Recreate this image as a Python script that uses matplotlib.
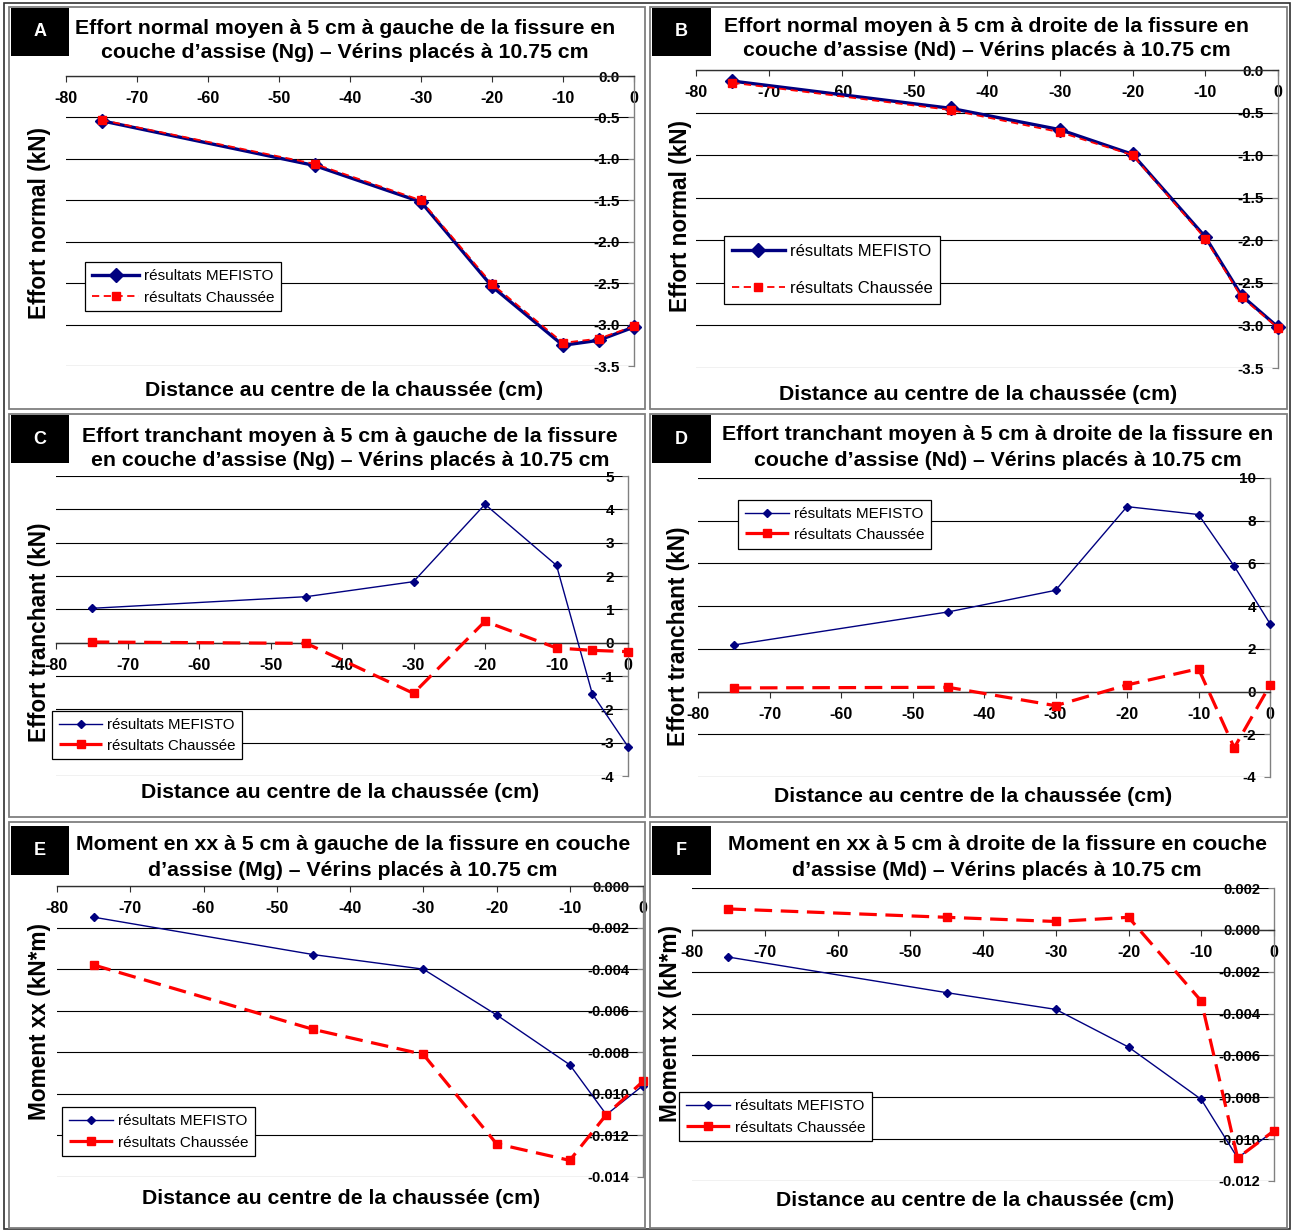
import matplotlib
matplotlib.use("Agg")
import matplotlib.pyplot as plt
from matplotlib.patches import Rectangle

plt.rcParams['font.family'] = ['Liberation Sans', 'DejaVu Sans']

# ---------------------------------------------------------------- data
distance_cm = [-75, -45, -30, -20, -10, -5, 0]
x_ticks = [-80, -70, -60, -50, -40, -30, -20, -10, 0]
x_tick_labels = ["-80", "-70", "-60", "-50", "-40", "-30", "-20", "-10", "0"]

# Effort normal (kN)
ng_mefisto = [-0.54, -1.08, -1.52, -2.54, -3.25, -3.19, -3.03]
ng_chaussee = [-0.53, -1.06, -1.50, -2.51, -3.22, -3.17, -3.02]
nd_mefisto = [-0.13, -0.45, -0.70, -0.99, -1.96, -2.65, -3.02]
nd_chaussee = [-0.15, -0.47, -0.73, -1.00, -1.98, -2.67, -3.03]

# Effort tranchant (kN)
tg_mefisto = [1.03, 1.38, 1.83, 4.15, 2.32, -1.53, -3.12]
tg_chaussee = [0.02, -0.02, -1.52, 0.64, -0.16, -0.23, -0.27]
td_mefisto = [2.18, 3.73, 4.74, 8.66, 8.29, 5.87, 3.18]
td_chaussee = [0.17, 0.20, -0.66, 0.31, 1.07, -2.63, 0.30]

# Moment xx (kN*m)
mg_mefisto = [-0.0015, -0.0033, -0.0040, -0.0062, -0.0086, -0.0110, -0.0096]
mg_chaussee = [-0.0038, -0.0069, -0.0081, -0.0124, -0.0132, -0.0110, -0.0094]
md_mefisto = [-0.0013, -0.0030, -0.0038, -0.0056, -0.0081, -0.0109, -0.0096]
md_chaussee = [0.0010, 0.0006, 0.0004, 0.0006, -0.0034, -0.0109, -0.0096]

y_ticks_normal = [0.0, -0.5, -1.0, -1.5, -2.0, -2.5, -3.0, -3.5]
y_labels_normal = ["0.0", "-0.5", "-1.0", "-1.5", "-2.0", "-2.5", "-3.0", "-3.5"]
y_ticks_tg = [5, 4, 3, 2, 1, 0, -1, -2, -3, -4]
y_labels_tg = ["5", "4", "3", "2", "1", "0", "-1", "-2", "-3", "-4"]
y_ticks_td = [10, 8, 6, 4, 2, 0, -2, -4]
y_labels_td = ["10", "8", "6", "4", "2", "0", "-2", "-4"]
y_ticks_mg = [0.0, -0.002, -0.004, -0.006, -0.008, -0.010, -0.012, -0.014]
y_labels_mg = ["0.000", "-0.002", "-0.004", "-0.006", "-0.008", "-0.010", "-0.012", "-0.014"]
y_ticks_md = [0.002, 0.0, -0.002, -0.004, -0.006, -0.008, -0.010, -0.012]
y_labels_md = ["0.002", "0.000", "-0.002", "-0.004", "-0.006", "-0.008", "-0.010", "-0.012"]

series_names = ["résultats MEFISTO", "résultats Chaussée"]
x_title = "Distance au centre de la chaussée (cm)"

titles = {
    "A": ("Effort normal moyen à 5 cm à gauche de la fissure en",
          "couche d’assise (Ng) – Vérins placés à 10.75 cm"),
    "B": ("Effort normal moyen à 5 cm à droite de la fissure en",
          "couche d’assise (Nd) – Vérins placés à 10.75 cm"),
    "C": ("Effort tranchant moyen à 5 cm à gauche de la fissure",
          "en couche d’assise (Ng) – Vérins placés à 10.75 cm"),
    "D": ("Effort tranchant moyen à 5 cm à droite de la fissure en",
          "couche d’assise (Nd) – Vérins placés à 10.75 cm"),
    "E": ("Moment en xx à 5 cm à gauche de la fissure en couche",
          "d’assise (Mg) – Vérins placés à 10.75 cm"),
    "F": ("Moment en xx à 5 cm à droite de la fissure en couche",
          "d’assise (Md) – Vérins placés à 10.75 cm"),
}

# ---------------------------------------------------------------- layout
W, H = 1293, 1231
fig = plt.figure(figsize=(W / 100, H / 100), dpi=100)


def fx(x):
    return x / W


def fy(y):
    return 1 - y / H


def rect_px(x0, y0, x1, y1, **kw):
    fig.add_artist(Rectangle((fx(x0), fy(y1)), (x1 - x0) / W, (y1 - y0) / H,
                             transform=fig.transFigure, **kw))


panels = [
    dict(key="A", mef=ng_mefisto, chs=ng_chaussee, yt=y_ticks_normal, yl=y_labels_normal,
         ylim=(-3.5, 0.0), ylabel="Effort normal (kN)", heavy=True,
         plot=(66, 634, 76, 366), frame=(9, 7, 645, 409), tag=(11, 8, 69, 56),
         title=(345, 28, 52), xlab=(344, 390), ylab=(40, 223), leg=(85, 262), legfs=11,
         legsp=0.5, ytfs=11, hl=3.1),
    dict(key="B", mef=nd_mefisto, chs=nd_chaussee, yt=y_ticks_normal, yl=y_labels_normal,
         ylim=(-3.5, 0.0), ylabel="Effort normal (kN)", heavy=True,
         plot=(696, 1278, 70, 368), frame=(650, 7, 1287, 409), tag=(652, 8, 711, 56),
         title=(987, 27, 51), xlab=(978, 394), ylab=(681, 216), leg=(724, 236), legfs=12,
         legsp=1.35, ytfs=11, hl=3.2),
    dict(key="C", mef=tg_mefisto, chs=tg_chaussee, yt=y_ticks_tg, yl=y_labels_tg,
         ylim=(-4, 5), ylabel="Effort tranchant (kN)", heavy=False,
         plot=(56, 628, 476, 776), frame=(9, 414, 645, 817), tag=(11, 415, 69, 463),
         title=(350, 436, 460), xlab=(340, 792), ylab=(40, 632), leg=(52, 711), legfs=10.8,
         legsp=0.45, ytfs=11, hl=2.9),
    dict(key="D", mef=td_mefisto, chs=td_chaussee, yt=y_ticks_td, yl=y_labels_td,
         ylim=(-4, 10), ylabel="Effort tranchant (kN)", heavy=False,
         plot=(698, 1270, 478, 777), frame=(650, 414, 1287, 817), tag=(652, 415, 711, 463),
         title=(998, 435, 460), xlab=(973, 796), ylab=(679, 636), leg=(738, 500), legfs=11,
         legsp=0.45, ytfs=11, hl=2.9),
    dict(key="E", mef=mg_mefisto, chs=mg_chaussee, yt=y_ticks_mg, yl=y_labels_mg,
         ylim=(-0.014, 0.0), ylabel="Moment xx (kN*m)", heavy=False,
         plot=(57, 643, 886, 1177), frame=(9, 822, 645, 1228), tag=(11, 826, 69, 875),
         title=(353, 845, 870), xlab=(341, 1198), ylab=(40, 1022), leg=(62, 1107), legfs=11,
         legsp=0.5, ytfs=10.5, hl=2.9),
    dict(key="F", mef=md_mefisto, chs=md_chaussee, yt=y_ticks_md, yl=y_labels_md,
         ylim=(-0.012, 0.002), ylabel="Moment xx (kN*m)", heavy=False,
         plot=(692, 1274, 888, 1181), frame=(650, 822, 1287, 1228), tag=(652, 826, 711, 875),
         title=(997, 845, 870), xlab=(975, 1200), ylab=(671, 1023), leg=(679, 1092), legfs=11,
         legsp=0.5, ytfs=10.5, hl=2.9),
]

NAVY = "#000080"
RED = "#FF0000"

# outer frame of the whole figure
rect_px(4, 3, 1290, 1229, fill=False, edgecolor="#303030", linewidth=1.2)

for p in panels:
    x0, x1, y0, y1 = p["plot"]
    ax = fig.add_axes([fx(x0), fy(y1), (x1 - x0) / W, (y1 - y0) / H])
    ax.patch.set_alpha(0)
    ax.set_xlim(-80, 0)
    ax.set_ylim(*p["ylim"])

    for s in ("top", "right"):
        ax.spines[s].set_visible(False)
    ax.spines["left"].set_position(("data", 0))
    ax.spines["left"].set_color("#808080")
    ax.spines["left"].set_linewidth(1.0)
    ax.spines["bottom"].set_position(("data", 0))
    ax.spines["bottom"].set_color("#303030")
    ax.spines["bottom"].set_linewidth(1.0)

    ax.set_xticks(x_ticks, x_tick_labels, fontweight="bold", fontsize=11.5)
    ax.set_yticks(p["yt"], p["yl"], fontweight="bold", fontsize=p["ytfs"])
    ax.tick_params(axis="x", direction="out", length=4, width=0.8, pad=7,
                   color="#303030")
    ax.tick_params(axis="y", direction="out", length=4, width=0.8, pad=6,
                   color="#808080")
    ax.yaxis.grid(True, color="black", linewidth=0.8)
    ax.set_axisbelow(True)

    if p["heavy"]:
        l1, = ax.plot(distance_cm, p["mef"], color=NAVY, lw=2.4, marker="D", ms=7,
                      mfc=NAVY, mec=NAVY, clip_on=False, zorder=3, label=series_names[0])
        l2, = ax.plot(distance_cm, p["chs"], color=RED, lw=1.3, ls=(0, (4, 2.5)),
                      marker="s", ms=6, mfc=RED, mec=RED, clip_on=False, zorder=4,
                      label=series_names[1])
    else:
        l1, = ax.plot(distance_cm, p["mef"], color=NAVY, lw=1.0, marker="D", ms=4.5,
                      mfc=NAVY, mec=NAVY, clip_on=False, zorder=3, label=series_names[0])
        l2, = ax.plot(distance_cm, p["chs"], color=RED, lw=2.3, ls=(0, (5.5, 2.7)),
                      marker="s", ms=5.5, mfc=RED, mec=RED, clip_on=False, zorder=4,
                      label=series_names[1])

    lx, ly = p["leg"]
    leg = fig.legend(handles=[l1, l2], loc="upper left",
                     bbox_to_anchor=(fx(lx), fy(ly)), bbox_transform=fig.transFigure,
                     borderaxespad=0, fontsize=p["legfs"], frameon=True, fancybox=False,
                     edgecolor="black", framealpha=1, handlelength=p["hl"],
                     handletextpad=0.3, borderpad=0.45, labelspacing=p["legsp"])
    leg.get_frame().set_linewidth(0.9)

    # panel frame
    fxa, fya, fxb, fyb = p["frame"]
    rect_px(fxa, fya, fxb, fyb, fill=False, edgecolor="#7f7f7f", linewidth=1.3)

    # panel tag
    ta, tb, tc, td = p["tag"]
    rect_px(ta, tb, tc, td, facecolor="black", edgecolor="black", linewidth=0)
    fig.text(fx((ta + tc) / 2), fy((tb + td) / 2), p["key"], color="white",
             fontsize=13, fontweight="bold", ha="center", va="center")

    # titles and axis titles
    cx, ty1, ty2 = p["title"]
    line1, line2 = titles[p["key"]]
    fig.text(fx(cx), fy(ty1), line1, fontsize=15.3, fontweight="bold",
             ha="center", va="center")
    fig.text(fx(cx), fy(ty2), line2, fontsize=15.3, fontweight="bold",
             ha="center", va="center")
    fig.text(fx(p["xlab"][0]), fy(p["xlab"][1]), x_title, fontsize=15.3,
             fontweight="bold", ha="center", va="center")
    fig.text(fx(p["ylab"][0]), fy(p["ylab"][1]), p["ylabel"], fontsize=16.3,
             fontweight="bold", ha="center", va="center", rotation=90)

fig.savefig("out.png", dpi=100)
